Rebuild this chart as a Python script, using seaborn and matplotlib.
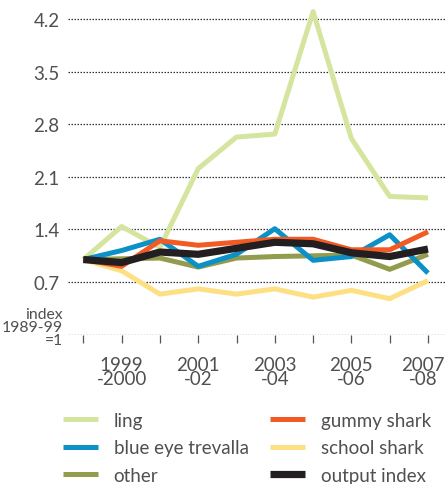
import numpy as np
import pandas as pd
import matplotlib
matplotlib.use("Agg")
import matplotlib.pyplot as plt
import matplotlib.transforms as mtransforms
import seaborn as sns

periods = ["1998-99", "1999-2000", "2000-01", "2001-02", "2002-03",
           "2003-04", "2004-05", "2005-06", "2006-07", "2007-08"]
tick_labels = ["", "1999\n-2000", "", "2001\n-02", "", "2003\n-04", "", "2005\n-06", "", "2007\n-08"]

ling = [1.00, 1.44, 1.16, 2.21, 2.63, 2.67, 4.30, 2.61, 1.84, 1.82]
blue_eye = [1.00, 1.12, 1.27, 0.91, 1.07, 1.41, 0.99, 1.04, 1.33, 0.82]
other = [1.00, 1.01, 1.02, 0.90, 1.02, 1.04, 1.05, 1.06, 0.87, 1.07]
gummy = [1.00, 0.91, 1.25, 1.19, 1.23, 1.27, 1.27, 1.13, 1.13, 1.37]
school = [1.00, 0.85, 0.54, 0.61, 0.54, 0.61, 0.50, 0.59, 0.48, 0.72]
output_index = [1.00, 0.96, 1.10, 1.07, 1.15, 1.23, 1.21, 1.09, 1.04, 1.14]

y_ticks = [0.7, 1.4, 2.1, 2.8, 3.5, 4.2]

series = [
    ("ling", ling, "#d5e59f", 3.6),
    ("school shark", school, "#fee084", 3.6),
    ("other", other, "#929c4c", 3.6),
    ("blue eye trevalla", blue_eye, "#0c90c8", 3.6),
    ("gummy shark", gummy, "#f15a24", 3.6),
    ("output index", output_index, "#231f20", 5.2),
]
legend_order = ["ling", "blue eye trevalla", "other", "gummy shark", "school shark", "output index"]

sns.set_theme(style="white")
plt.rcParams["font.family"] = ["Lato", "DejaVu Sans"]
text_color = "#505050"
fs = 13.5

fig = plt.figure(figsize=(4.46, 4.85), dpi=100)
ax = fig.add_axes([68 / 446, 149.3 / 485, 1 - 68 / 446, (485 - 149.3 - 1.3) / 485])

x = np.arange(len(periods))
handles = {}
for name, vals, color, lw in series:
    df = pd.DataFrame({"x": x, "value": vals})
    sns.lineplot(data=df, x="x", y="value", ax=ax, color=color, linewidth=lw,
                 legend=False, solid_joinstyle="round", solid_capstyle="butt")
    handles[name] = ax.get_lines()[-1]

ax.set_xlim(-0.40, 9.47)
ax.set_ylim(0, 4.45)

for v in [0] + y_ticks:
    ax.axhline(v, color="#333333", linewidth=0.9, linestyle=(0, (1.2, 1.2)), zorder=0)

for s in ax.spines.values():
    s.set_visible(False)

ax.set_yticks(y_ticks)
ax.set_yticklabels([f"{v:.1f}" for v in y_ticks], fontsize=fs, color=text_color)
ax.tick_params(axis="y", length=0, pad=6)
ax.set_xticks(x)
ax.set_xticklabels(tick_labels, fontsize=fs, color=text_color, linespacing=0.8)
ax.tick_params(axis="x", length=6, width=0.9, color="#555555", pad=9, direction="out", bottom=True)
last = ax.get_xticklabels()[-1]
last.set_transform(last.get_transform() + mtransforms.ScaledTranslation(-5 / 100, 0, fig.dpi_scale_trans))
ax.set_xlabel("")
ax.set_ylabel("")
ax.grid(False)

fig.text(63 / 446, 1 - 328 / 485, "index\n1989-99\n=1", ha="right", va="center",
         fontsize=11.3, color=text_color, linespacing=0.95)

fig.legend([handles[n] for n in legend_order], legend_order, ncol=2, frameon=False,
           loc="upper left", bbox_to_anchor=(63 / 446, 1 - 413 / 485),
           fontsize=fs, labelcolor=text_color, handlelength=1.85, handletextpad=0.85,
           columnspacing=1.15, labelspacing=0.55, borderpad=0, borderaxespad=0)

fig.savefig("out.png", dpi=100)
